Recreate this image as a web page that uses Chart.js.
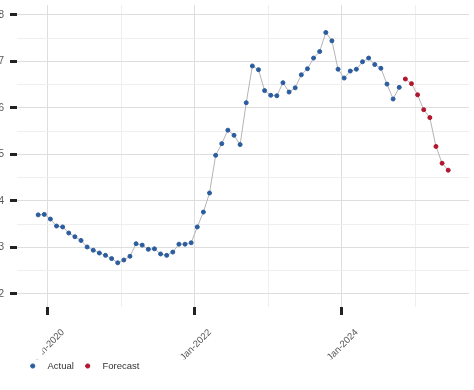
<!DOCTYPE html>
<html>
<head>
<meta charset="utf-8">
<script src="https://cdn.jsdelivr.net/npm/chart.js@4.4.0/dist/chart.umd.min.js"></script>
<style>
  html, body { margin: 0; padding: 0; background: #fff; overflow: hidden; }
  #wrap { position: relative; width: 474px; height: 390px; }
</style>
</head>
<body>
<div id="wrap"><canvas id="chart" width="474" height="390"></canvas></div>
<script>
// Monthly series (observations dated mid-month)
const actualStart = [2019, 11];
const actualValues = [
  3.70, 3.71,
  3.61, 3.46, 3.44, 3.31, 3.23, 3.15, 3.01, 2.94, 2.88, 2.83, 2.76, 2.67,
  2.73, 2.81, 3.08, 3.05, 2.96, 2.97, 2.86, 2.83, 2.90, 3.07, 3.07, 3.10,
  3.44, 3.76, 4.17, 4.98, 5.23, 5.52, 5.41, 5.21, 6.11, 6.90, 6.82, 6.37,
  6.27, 6.26, 6.54, 6.34, 6.43, 6.71, 6.84, 7.07, 7.21, 7.62, 7.44, 6.83,
  6.64, 6.79, 6.83, 6.99, 7.07, 6.93, 6.85, 6.51, 6.19, 6.44
];
const forecastStart = [2024, 11];
const forecastValues = [6.62, 6.52, 6.28, 5.96, 5.79, 5.17, 4.81, 4.66];

const xTickYears = [2020, 2021, 2022, 2023, 2024, 2025];
const xTickLabels = ['Jan-2020', '', 'Jan-2022', '', 'Jan-2024', ''];
const yTickValues = [2, 2.5, 3, 3.5, 4, 4.5, 5, 5.5, 6, 6.5, 7, 7.5, 8];
const yTickLabels = ['2', '', '3', '', '4', '', '5', '', '6', '', '7', '', '8'];

const baseYear = 2020;
const midMonth = 0.4;

// months since Jan of baseYear
function monthIndex(year, month) {
  return (year - baseYear) * 12 + (month - 1);
}

function toPoints(start, values) {
  const first = monthIndex(start[0], start[1]);
  return values.map((v, i) => ({ x: first + i + midMonth, y: v }));
}

const blue = '#2b5c9e';
const red = '#b0162e';
const lineGray = '#b4b4b4';
const labelGray = '#555555';
const fontFamily = 'Liberation Sans, Arial, sans-serif';

// nudge the legend so it sits under the axis labels
const legendShift = {
  id: 'legendShift',
  afterLayout(chart) {
    const l = chart.legend;
    l.left += 19;
    l.right += 19;
    l.top -= 7;
    l.bottom -= 7;
  }
};

// the first date label is partly hidden in the source picture
const labelMask = {
  id: 'labelMask',
  afterDraw(chart) {
    const ctx = chart.ctx;
    ctx.save();
    ctx.fillStyle = '#ffffff';
    ctx.fillRect(0, chart.chartArea.bottom + 12, 42.5, 40);
    ctx.restore();
  }
};

const ctx = document.getElementById('chart');

new Chart(ctx, {
  type: 'line',
  data: {
    datasets: [
      {
        label: 'Actual',
        data: toPoints(actualStart, actualValues),
        borderColor: lineGray,
        borderWidth: 1,
        pointBackgroundColor: blue,
        pointBorderColor: blue,
        pointBorderWidth: 1,
        pointRadius: 2,
        pointStyle: 'circle',
        tension: 0
      },
      {
        label: 'Forecast',
        data: toPoints(forecastStart, forecastValues),
        borderColor: lineGray,
        borderWidth: 1,
        pointBackgroundColor: red,
        pointBorderColor: red,
        pointBorderWidth: 1,
        pointRadius: 2,
        pointStyle: 'circle',
        tension: 0
      }
    ]
  },
  options: {
    responsive: false,
    animation: false,
    devicePixelRatio: 1,
    layout: { padding: { top: 0, right: 0, bottom: 2.25, left: 0 } },
    scales: {
      x: {
        type: 'linear',
        min: -5.06,
        max: 68.8,
        afterBuildTicks: function(scale) {
          scale.ticks = xTickYears.map(y => ({ value: monthIndex(y, 1) }));
        },
        afterFit: function(scale) {
          scale.height = 52.25;
          scale.paddingLeft = 0;
          scale.paddingRight = 0;
        },
        ticks: {
          autoSkip: false,
          minRotation: 45,
          maxRotation: 45,
          labelOffset: 15,
          padding: 12,
          color: labelGray,
          font: { family: fontFamily, size: 9.5 },
          callback: function(value, index) {
            return xTickLabels[index];
          }
        },
        grid: {
          color: c => xTickLabels[c.index] ? '#dedede' : '#efefef',
          lineWidth: 1,
          drawTicks: true,
          tickLength: 8,
          tickWidth: 3,
          tickColor: c => xTickLabels[c.index] ? '#222222' : 'rgba(0,0,0,0)'
        },
        border: { display: false }
      },
      y: {
        type: 'linear',
        min: 1.72,
        max: 8.21,
        afterBuildTicks: function(scale) {
          scale.ticks = yTickValues.map(v => ({ value: v }));
        },
        afterFit: function(scale) {
          scale.width = 17;
          scale.paddingTop = 0;
          scale.paddingBottom = 0;
        },
        ticks: {
          padding: 6,
          color: labelGray,
          font: { family: fontFamily, size: 10 },
          callback: function(value, index) {
            return yTickLabels[index];
          }
        },
        grid: {
          color: c => yTickLabels[c.index] ? '#dedede' : '#efefef',
          lineWidth: 1,
          drawTicks: true,
          tickLength: 7,
          tickWidth: 3,
          tickColor: c => yTickLabels[c.index] ? '#222222' : 'rgba(0,0,0,0)'
        },
        border: { display: false }
      }
    },
    plugins: {
      legend: {
        position: 'bottom',
        align: 'start',
        labels: {
          usePointStyle: true,
          pointStyle: 'circle',
          boxWidth: 10,
          boxHeight: 3,
          padding: 9,
          color: '#333333',
          font: { family: fontFamily, size: 9.5 },
          generateLabels: function(chart) {
            const items = Chart.defaults.plugins.legend.labels.generateLabels(chart);
            return items.map(item => Object.assign(item, { text: '  ' + item.text }));
          }
        }
      },
      tooltip: { enabled: false }
    }
  },
  plugins: [legendShift, labelMask]
});
</script>
</body>
</html>
